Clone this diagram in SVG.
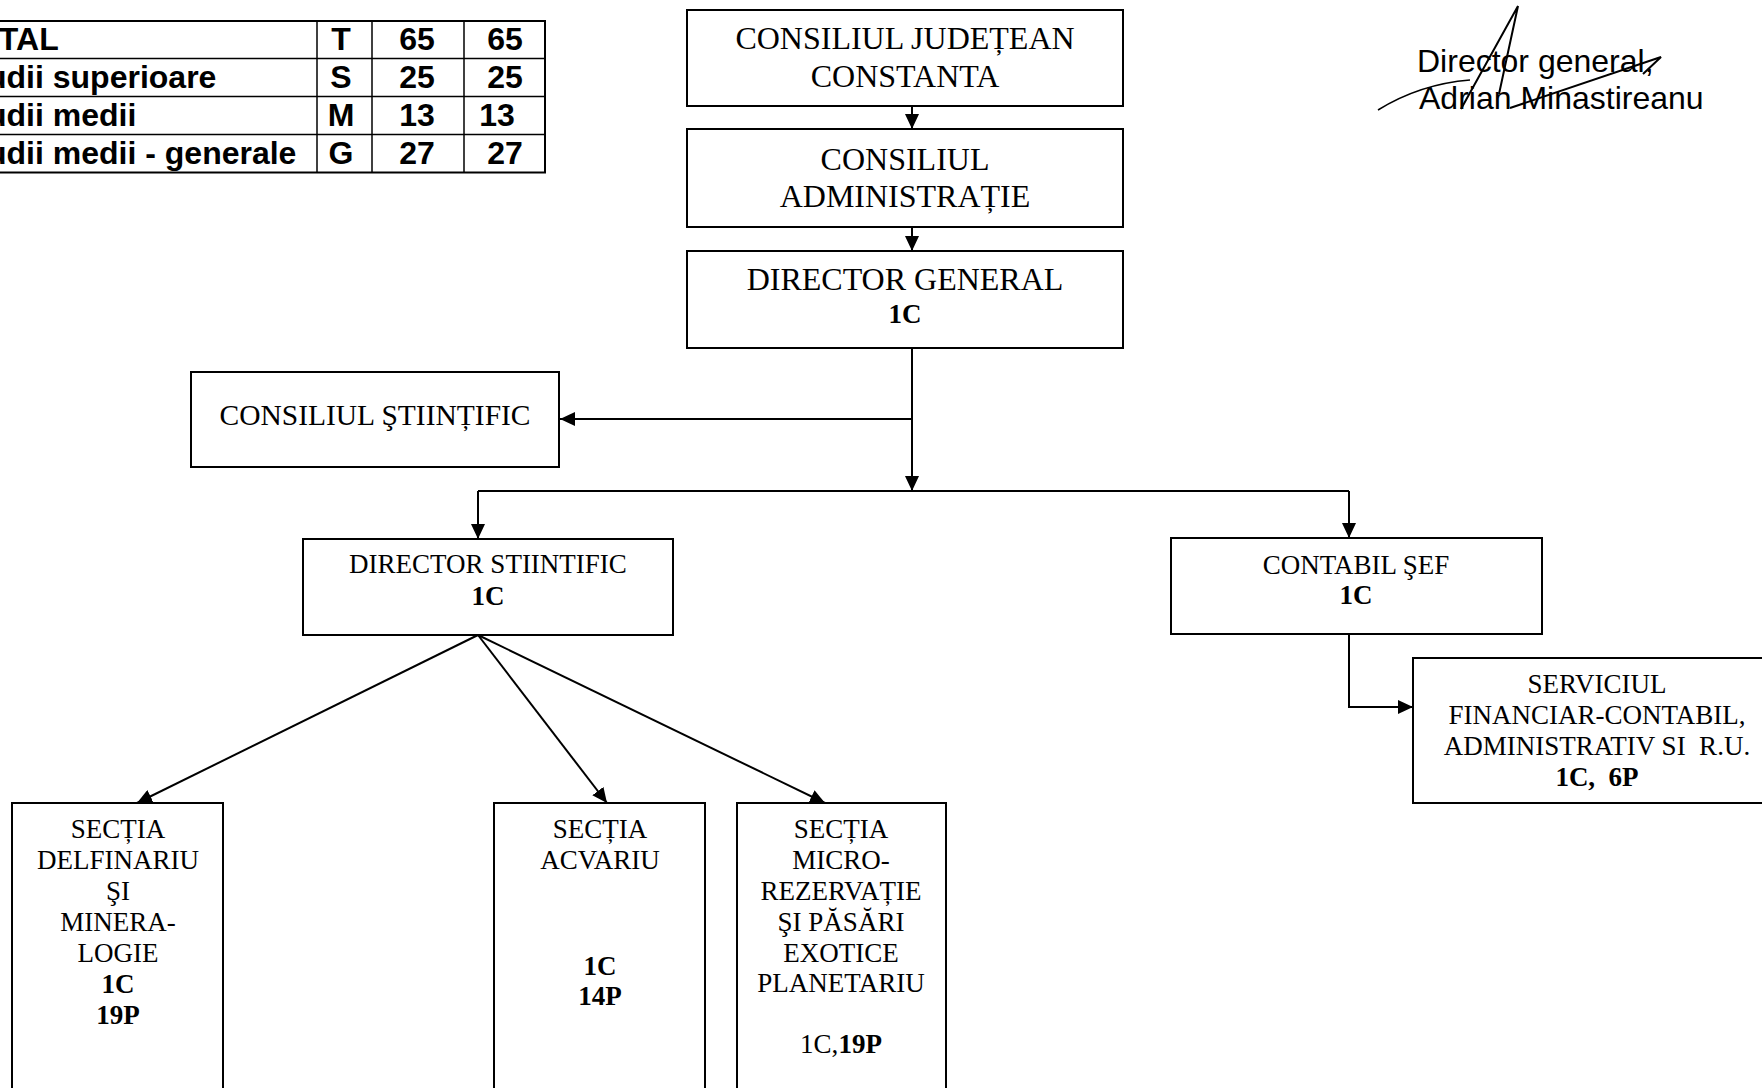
<svg xmlns="http://www.w3.org/2000/svg" width="1762" height="1088" viewBox="0 0 1762 1088">
<style>
.box{fill:#fff;stroke:#000;stroke-width:2}
.ln{fill:none;stroke:#000;stroke-width:2}
.t32{font-family:"Liberation Serif","Times New Roman",serif;font-size:32px;text-anchor:middle;fill:#000}
.t30{font-family:"Liberation Serif","Times New Roman",serif;font-size:29.5px;text-anchor:middle;fill:#000}
.t26{font-family:"Liberation Serif","Times New Roman",serif;font-size:27px;text-anchor:middle;fill:#000}
.b{font-weight:bold}
.tab{font-family:"Liberation Sans",Arial,sans-serif;font-size:32px;font-weight:bold;fill:#000}
.tc{text-anchor:middle}
.sig{font-family:"Liberation Sans",Arial,sans-serif;font-size:32px;fill:#000}
</style>
<defs>
<marker id="ah" markerUnits="userSpaceOnUse" markerWidth="16" markerHeight="14" refX="15" refY="7" orient="auto">
<path d="M0,0 L15,7 L0,14 z" fill="#000"/>
</marker>
</defs>
<rect width="1762" height="1088" fill="#fff"/>

<g id="tabel">
<rect x="-60" y="21" width="605" height="151.5" fill="none" stroke="#000" stroke-width="2"/>
<line x1="-60" y1="58.5" x2="545" y2="58.5" stroke="#000" stroke-width="1.5"/>
<line x1="-60" y1="96.5" x2="545" y2="96.5" stroke="#000" stroke-width="1.5"/>
<line x1="-60" y1="134.5" x2="545" y2="134.5" stroke="#000" stroke-width="1.5"/>
<line x1="317" y1="21" x2="317" y2="172.5" stroke="#000" stroke-width="1.5"/>
<line x1="372" y1="21" x2="372" y2="172.5" stroke="#000" stroke-width="1.5"/>
<line x1="464" y1="21" x2="464" y2="172.5" stroke="#000" stroke-width="1.5"/>
<text class="tab" x="-45" y="50">TOTAL</text>
<text class="tab" x="-45" y="88">Studii superioare</text>
<text class="tab" x="-45" y="126">Studii medii</text>
<text class="tab" x="-45" y="164">Studii medii - generale</text>
<text class="tab tc" x="341" y="50">T</text>
<text class="tab tc" x="341" y="88">S</text>
<text class="tab tc" x="341" y="126">M</text>
<text class="tab tc" x="341" y="164">G</text>
<text class="tab tc" x="417" y="50">65</text>
<text class="tab tc" x="417" y="88">25</text>
<text class="tab tc" x="417" y="126">13</text>
<text class="tab tc" x="417" y="164">27</text>
<text class="tab tc" x="505" y="50">65</text>
<text class="tab tc" x="505" y="88">25</text>
<text class="tab tc" x="497" y="126">13</text>
<text class="tab tc" x="505" y="164">27</text>
</g>

<g id="semnatura">
<path d="M1378,110 Q1420,84 1470,80" fill="none" stroke="#000" stroke-width="1.5"/>
<path d="M1461,109 L1518,6 L1499,94" fill="none" stroke="#000" stroke-width="2"/>
<path d="M1510,108 L1661,57 L1643,74" fill="none" stroke="#000" stroke-width="2"/>
<text class="sig" x="1417" y="72">Director general,</text>
<text class="sig" x="1419" y="109">Adrian Minastireanu</text>
</g>

<g id="connectors">
<line class="ln" x1="912" y1="106" x2="912" y2="129" marker-end="url(#ah)"/>
<line class="ln" x1="912" y1="227" x2="912" y2="251" marker-end="url(#ah)"/>
<line class="ln" x1="912" y1="348" x2="912" y2="491" marker-end="url(#ah)"/>
<line class="ln" x1="912" y1="419" x2="560" y2="419" marker-end="url(#ah)"/>
<line class="ln" x1="478" y1="491" x2="1349" y2="491"/>
<line class="ln" x1="478" y1="491" x2="478" y2="539" marker-end="url(#ah)"/>
<line class="ln" x1="1349" y1="491" x2="1349" y2="538" marker-end="url(#ah)"/>
<polyline class="ln" points="1349,634 1349,707 1413,707" marker-end="url(#ah)"/>
<line class="ln" x1="478" y1="635" x2="137" y2="803" marker-end="url(#ah)"/>
<line class="ln" x1="478" y1="635" x2="607" y2="803" marker-end="url(#ah)"/>
<line class="ln" x1="478" y1="635" x2="825" y2="803" marker-end="url(#ah)"/>
</g>

<g id="consiliul-judetean">
<rect class="box" x="687" y="10" width="436" height="96"/>
<text class="t32" x="905" y="49">CONSILIUL JUDEȚEAN</text>
<text class="t32" x="905" y="87">CONSTANTA</text>
</g>

<g id="consiliul-administratie">
<rect class="box" x="687" y="129" width="436" height="98"/>
<text class="t32" x="905" y="170">CONSILIUL</text>
<text class="t32" x="905" y="207">ADMINISTRAȚIE</text>
</g>

<g id="director-general">
<rect class="box" x="687" y="251" width="436" height="97"/>
<text class="t32" x="905" y="290">DIRECTOR GENERAL</text>
<text class="t26 b" x="905" y="323">1C</text>
</g>

<g id="consiliul-stiintific">
<rect class="box" x="191" y="372" width="368" height="95"/>
<text class="t30" x="375" y="425">CONSILIUL ŞTIINȚIFIC</text>
</g>

<g id="director-stiintific">
<rect class="box" x="303" y="539" width="370" height="96"/>
<text class="t26" x="488" y="573">DIRECTOR STIINTIFIC</text>
<text class="t26 b" x="488" y="605">1C</text>
</g>

<g id="contabil-sef">
<rect class="box" x="1171" y="538" width="371" height="96"/>
<text class="t26" x="1356" y="574">CONTABIL ŞEF</text>
<text class="t26 b" x="1356" y="604">1C</text>
</g>

<g id="serviciul-financiar">
<rect class="box" x="1413" y="658" width="370" height="145"/>
<text class="t26" x="1597" y="693">SERVICIUL</text>
<text class="t26" x="1597" y="724">FINANCIAR-CONTABIL,</text>
<text class="t26" x="1597" y="755" xml:space="preserve">ADMINISTRATIV SI  R.U.</text>
<text class="t26 b" x="1597" y="786" xml:space="preserve">1C,  6P</text>
</g>

<g id="sectia-delfinariu">
<rect class="box" x="12" y="803" width="211" height="300"/>
<text class="t26" x="118" y="838">SECȚIA</text>
<text class="t26" x="118" y="869">DELFINARIU</text>
<text class="t26" x="118" y="900">ŞI</text>
<text class="t26" x="118" y="931">MINERA-</text>
<text class="t26" x="118" y="962">LOGIE</text>
<text class="t26 b" x="118" y="993">1C</text>
<text class="t26 b" x="118" y="1024">19P</text>
</g>

<g id="sectia-acvariu">
<rect class="box" x="494" y="803" width="211" height="300"/>
<text class="t26" x="600" y="838">SECȚIA</text>
<text class="t26" x="600" y="869">ACVARIU</text>
<text class="t26 b" x="600" y="975">1C</text>
<text class="t26 b" x="600" y="1005">14P</text>
</g>

<g id="sectia-microrezervatie">
<rect class="box" x="737" y="803" width="209" height="300"/>
<text class="t26" x="841" y="838">SECȚIA</text>
<text class="t26" x="841" y="869">MICRO-</text>
<text class="t26" x="841" y="900">REZERVAȚIE</text>
<text class="t26" x="841" y="931">ŞI PĂSĂRI</text>
<text class="t26" x="841" y="962">EXOTICE</text>
<text class="t26" x="841" y="992">PLANETARIU</text>
<text class="t26" x="841" y="1053">1C,<tspan class="b">19P</tspan></text>
</g>
</svg>
